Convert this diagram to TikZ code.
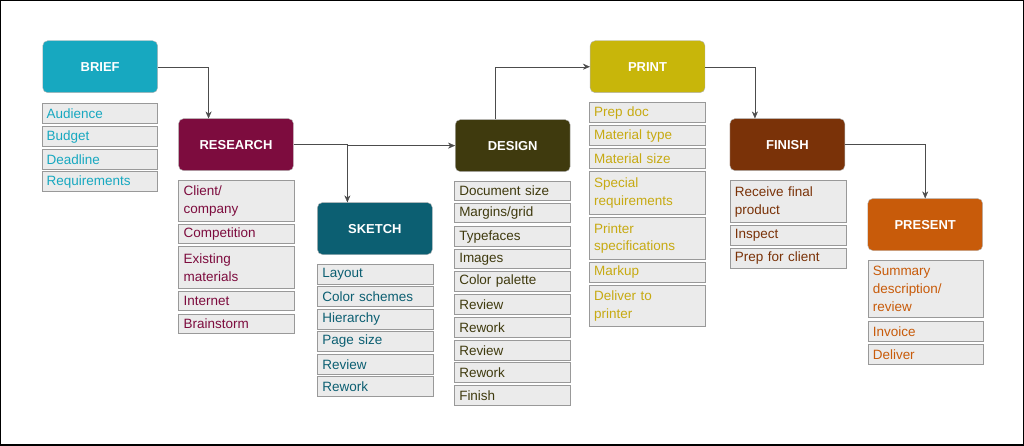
\documentclass[tikz,border=0pt]{standalone}
\usepackage{fontspec}
\setmainfont{Liberation Sans}
\usetikzlibrary{arrows.meta}
\definecolor{cbrief}{HTML}{17A8C0}
\definecolor{cres}{HTML}{7D0C3E}
\definecolor{csk}{HTML}{0C5F72}
\definecolor{cdes}{HTML}{3F3A0E}
\definecolor{cpr}{HTML}{C8B60A}
\definecolor{tpr}{HTML}{C7AA12}
\definecolor{cfin}{HTML}{7A3208}
\definecolor{cpre}{HTML}{C85B0A}
\tikzset{
 stage/.style={rounded corners=5pt, draw=gray!60, minimum width=115pt, minimum height=52pt, anchor=north west, text=white, font=\fontsize{13}{15}\selectfont\bfseries, inner sep=0pt},
 item/.style={draw=gray!80, fill=gray!16, anchor=north west, text width=106pt, inner xsep=5pt, inner ysep=1pt, align=left, font=\fontsize{13.5}{18}\selectfont},
 link/.style={draw=black!70, -{Stealth[length=7pt,width=6pt]}}
}
\newcommand{\itm}[5]{\node[item, text=#4, minimum height=#3pt] (#1) at (#2) {#5};}
\begin{document}
\begin{tikzpicture}[x=1pt,y=-1pt]
\draw[black, line width=1.2pt, fill=white] (0,0) rectangle (1024,445);
\useasboundingbox (0,0) rectangle (1024,445);
\node[stage, fill=cbrief] (brief) at (42,40) {BRIEF};
\node[stage, fill=cres] (res) at (178,118) {RESEARCH};
\node[stage, fill=csk] (sk) at (317,202) {SKETCH};
\node[stage, fill=cdes] (des) at (455,119) {DESIGN};
\node[stage, fill=cpr] (pr) at (590,40) {PRINT};
\node[stage, fill=cfin] (fin) at (730,118) {FINISH};
\node[stage, fill=cpre] (pre) at (868,198) {PRESENT};
% brief items
\itm{b1}{41,103}{20}{cbrief}{Audience}
\itm{b2}{41,126}{20}{cbrief}{Budget}
\itm{b3}{41,149}{20}{cbrief}{Deadline}
\itm{b4}{41,171}{20}{cbrief}{Requirements}
% research
\itm{r1}{178,180}{41}{cres}{Client/\\company}
\itm{r2}{178,224}{19}{cres}{Competition}
\itm{r3}{178,246}{42}{cres}{Existing\\materials}
\itm{r4}{178,291}{19}{cres}{Internet}
\itm{r5}{178,314}{19}{cres}{Brainstorm}
% sketch
\itm{s1}{317,264}{20}{csk}{Layout}
\itm{s2}{317,286}{20}{csk}{Color schemes}
\itm{s3}{317,309}{20}{csk}{Hierarchy}
\itm{s4}{317,331}{20}{csk}{Page size}
\itm{s5}{317,354}{20}{csk}{Review}
\itm{s6}{317,376}{20}{csk}{Rework}
% design
\itm{d1}{454,181}{19}{cdes}{Document size}
\itm{d2}{454,203}{19}{cdes}{Margins/grid}
\itm{d3}{454,226}{20}{cdes}{Typefaces}
\itm{d4}{454,249}{19}{cdes}{Images}
\itm{d5}{454,271}{20}{cdes}{Color palette}
\itm{d6}{454,294}{20}{cdes}{Review}
\itm{d7}{454,317}{20}{cdes}{Rework}
\itm{d8}{454,340}{20}{cdes}{Review}
\itm{d9}{454,362}{20}{cdes}{Rework}
\itm{d10}{454,385}{20}{cdes}{Finish}
% print
\itm{p1}{589,102}{20}{tpr}{Prep doc}
\itm{p2}{589,125}{20}{tpr}{Material type}
\itm{p3}{589,148}{20}{tpr}{Material size}
\itm{p4}{589,171}{43}{tpr}{Special\\requirements}
\itm{p5}{589,217}{42}{tpr}{Printer\\specifications}
\itm{p6}{589,262}{20}{tpr}{Markup}
\itm{p7}{589,285}{41}{tpr}{Deliver to\\printer}
% finish
\itm{f1}{730,180}{42}{cfin}{Receive final\\product}
\itm{f2}{730,225}{20}{cfin}{Inspect}
\itm{f3}{730,248}{20}{cfin}{Prep for client}
% present
\itm{e1}{868,260}{57}{cpre}{Summary\\description/\\review}
\itm{e2}{868,321}{20}{cpre}{Invoice}
\itm{e3}{868,344}{20}{cpre}{Deliver}
% links
\draw[link] (brief.east) -| ([xshift=-27.5pt]res.north);
\draw[link] (res.east) -| ([xshift=-27.5pt]sk.north);
\draw[link] ([xshift=-27.5pt]sk.north) |- (des.west);
\draw[link] ([xshift=-17.5pt]des.north) |- (pr.west);
\draw[link] (pr.east) -| ([xshift=-32.5pt]fin.north);
\draw[link] (fin.east) -| (pre.north);
\end{tikzpicture}
\end{document}
